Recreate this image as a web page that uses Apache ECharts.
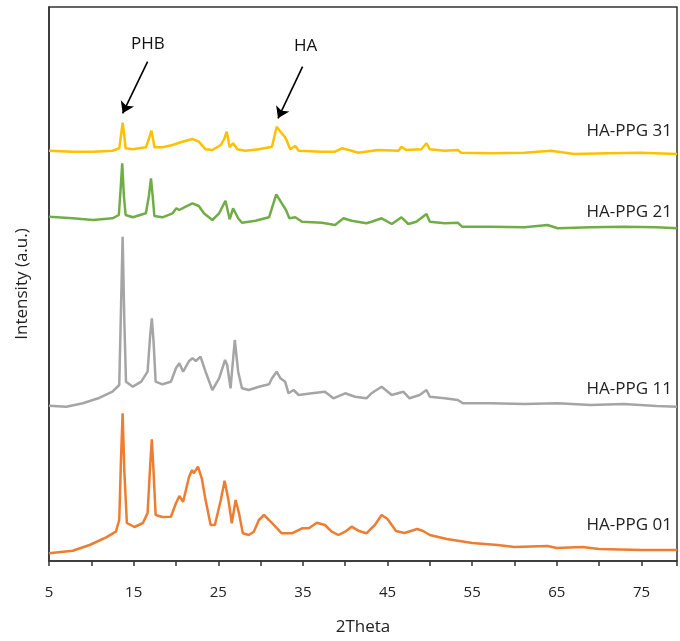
<!DOCTYPE html>
<html>
<head>
<meta charset="utf-8">
<script src="https://cdn.jsdelivr.net/npm/echarts@6/dist/echarts.min.js"></script>
<style>html,body{margin:0;padding:0;background:#fff;}#c{width:680px;height:641px;}</style>
</head>
<body>
<div id="c"></div>
<script>
// ---- data (2Theta, offset intensity in a.u.) ----
const x01 = [5, 7.8, 9.8, 11.75, 12.9, 13.3, 13.5, 13.7, 13.9, 14.2, 15.1, 16.1, 16.65, 16.95, 17.15, 17.35, 17.6, 18.4, 19.4, 20.0, 20.4, 20.85, 21.55, 21.9, 22.1, 22.6, 23.05, 23.5, 24.1, 24.6, 25.3, 25.75, 26.2, 26.6, 27.05, 27.45, 27.9, 28.6, 29.2, 29.8, 30.4, 31.0, 31.75, 32.5, 33.7, 34.9, 35.7, 36.65, 37.6, 38.4, 39.2, 40.0, 40.75, 41.55, 42.5, 43.5, 44.3, 45.0, 46.0, 47.0, 48.5, 49.2, 50, 52, 55, 58, 60, 63.9, 65, 68, 70, 75, 79.2];
const y01 = [7.7, 10.3, 16, 23.7, 29.3, 41, 100, 147.7, 90, 38, 34, 38, 48, 95, 121.7, 90, 46, 44, 44.3, 57.7, 65, 59.3, 84.3, 91, 87.7, 94.3, 82.7, 61, 36, 36, 61, 80.3, 61, 37.7, 61, 47.7, 27.7, 26, 29.3, 41, 46, 41, 34.3, 27.7, 27.7, 32.7, 32.7, 38.3, 36, 29.3, 26, 29.3, 34.3, 30.3, 27.7, 36, 46, 42, 30, 28, 32, 30, 26, 22, 18, 16, 14, 15, 13, 14, 12, 11, 11];

const x11 = [5, 7.05, 9.0, 11.0, 12.5, 13.3, 13.5, 13.7, 13.9, 14.1, 14.9, 15.9, 16.65, 16.95, 17.15, 17.35, 17.6, 18.4, 19.4, 20.0, 20.4, 20.85, 21.55, 21.95, 22.35, 22.9, 23.5, 24.3, 25.1, 25.8, 26.05, 26.45, 26.95, 27.35, 27.8, 28.6, 29.8, 31.0, 31.35, 31.9, 32.35, 32.9, 33.3, 33.9, 34.5, 36.05, 37.6, 38.6, 40.0, 41.15, 42.5, 43.1, 44.3, 45.5, 46.85, 47.6, 48.8, 49.6, 50.0, 51.75, 53.3, 53.9, 57.2, 61.2, 65.1, 69.0, 72.9, 76.8, 79.2];
const y11 = [155.3, 154.3, 157.7, 163.3, 169.3, 176, 250, 324.3, 240, 179.3, 174.3, 179.3, 189.3, 225, 242.7, 220, 179.3, 176.7, 179.3, 192.7, 197.7, 189.3, 200, 202.7, 200, 204.3, 189.3, 171, 182.7, 201, 196, 172.7, 221, 189.3, 172.7, 171, 174.3, 176.7, 182.7, 189.3, 182.7, 179.3, 167.7, 171, 166, 167.7, 169.3, 162.7, 167.7, 164.3, 162.7, 167.7, 174.3, 166, 169.3, 162.7, 166, 171, 164.3, 162.7, 161, 157.7, 157.7, 157, 157.7, 156, 157, 155, 154.3];

const x21 = [5, 7.8, 10.2, 12.5, 13.25, 13.45, 13.65, 13.85, 14.05, 14.9, 16.45, 16.8, 17.05, 17.25, 17.45, 18.4, 19.6, 20.05, 20.4, 21.15, 21.95, 22.7, 23.3, 24.3, 25.1, 25.85, 26.35, 26.75, 27.35, 27.8, 29.4, 31.0, 31.85, 32.45, 33.0, 33.4, 34.1, 34.9, 37.25, 38.8, 39.8, 40.75, 42.5, 43.1, 44.3, 45.5, 46.65, 47.45, 48.4, 49.6, 50.0, 51.75, 53.3, 53.8, 57.2, 61.2, 63.9, 65.1, 69.0, 72.9, 76.8, 79.2];
const y21 = [344.3, 342.7, 341, 342.7, 346, 370, 397.7, 365, 346, 343.7, 347.7, 365, 382.7, 365, 345, 343.7, 347.7, 352.7, 351, 354.3, 357.7, 355, 347.7, 341, 347.7, 360.3, 341.7, 352.7, 342.7, 338.3, 340.3, 343.7, 366.7, 358.3, 351, 342.7, 343.7, 339.3, 338.3, 336, 342.7, 340.3, 337.7, 339.3, 342.7, 337, 343.7, 337, 339.3, 347, 339.3, 337.7, 338.3, 334.3, 334.3, 333.7, 336, 332.7, 333.7, 334.3, 333.7, 332.7];

const x31 = [5, 7.8, 10.2, 12.5, 13.3, 13.5, 13.7, 13.9, 14.05, 14.9, 16.45, 16.8, 17.1, 17.3, 17.45, 18.4, 19.6, 20.75, 21.95, 22.7, 23.5, 24.3, 25.3, 25.7, 26.0, 26.35, 26.75, 27.25, 28.2, 29.8, 31.35, 31.9, 32.35, 32.85, 33.1, 33.5, 34.1, 34.5, 37.25, 38.8, 39.6, 40.75, 41.55, 43.9, 46.3, 46.65, 47.2, 49.0, 49.6, 50.0, 51.75, 53.3, 53.7, 57.2, 61.2, 64.3, 67.05, 71.0, 74.9, 79.2];
const y31 = [410.3, 409.3, 409.3, 410.3, 412.7, 425, 438.3, 425, 412.7, 411.7, 413.7, 422, 430.3, 422, 413.7, 413.7, 416, 419.3, 422, 419.3, 411.7, 411, 416, 422, 429.3, 413.7, 417.7, 411.7, 410.3, 411.7, 414.3, 434.3, 429.3, 424.3, 420.3, 411.7, 415, 410.3, 409.3, 409.3, 412.7, 410.3, 408.3, 411, 410.3, 414.3, 411, 411.7, 417.7, 411.7, 410.3, 411, 408.3, 407.7, 408.3, 410.3, 407, 407.7, 408.3, 407];

const seriesNames = ['HA-PPG 01', 'HA-PPG 11', 'HA-PPG 21', 'HA-PPG 31'];
const seriesColors = ['#ED7D31', '#A5A5A5', '#70AD47', '#FFC000'];
const xTickLabels = [5, 15, 25, 35, 45, 55, 65, 75];
const peakNotes = ['PHB', 'HA'];
// arrow ends in data units: [start, end]
const arrowPHB = [[16.65, 499.3], [13.7, 447.7]];
const arrowHA = [[34.96, 494.3], [32.06, 442.7]];

const zip = (xs, ys) => xs.map((v, i) => [v, ys[i]]);
const allX = [x01, x11, x21, x31];
const allY = [y01, y11, y21, y31];

const chart = echarts.init(document.getElementById('c'), null, {renderer: 'canvas'});
const FONT = '"Open Sans", "DejaVu Sans", sans-serif';

const series = seriesNames.map((n, i) => ({
  name: n,
  type: 'line',
  data: zip(allX[i], allY[i]),
  showSymbol: false,
  symbol: 'none',
  lineStyle: {color: seriesColors[i], width: 2.5},
  itemStyle: {color: seriesColors[i]},
  z: 2 + i,
  silent: true
}));

series[3].markLine = {
  silent: true,
  symbol: ['none', 'arrow'],
  symbolSize: 11,
  label: {show: false},
  lineStyle: {color: '#000', width: 1.6, type: 'solid'},
  data: [
    [{coord: arrowPHB[0]}, {coord: arrowPHB[1]}],
    [{coord: arrowHA[0]}, {coord: arrowHA[1]}]
  ]
};

const labelY = [527, 391, 214, 133];
const graphics = seriesNames.map((n, i) => ({
  type: 'text',
  right: 8,
  top: labelY[i] - 10,
  style: {text: n, font: '17px ' + FONT, fill: '#222'}
}));
graphics.push({type: 'text', left: 131, top: 36, style: {text: peakNotes[0], font: '17px ' + FONT, fill: '#111'}});
graphics.push({type: 'text', left: 294, top: 38, style: {text: peakNotes[1], font: '17px ' + FONT, fill: '#111'}});

chart.setOption({
  animation: false,
  backgroundColor: '#fff',
  grid: {left: 49, right: 0, top: 7, bottom: 80, show: true, borderColor: '#333', borderWidth: 1.5, backgroundColor: 'transparent'},
  xAxis: {
    type: 'value', min: 5, max: 79.2, interval: 5,
    name: '2Theta', nameLocation: 'middle', nameGap: 58,
    nameTextStyle: {fontFamily: FONT, fontSize: 17, color: '#222'},
    axisLine: {show: true, lineStyle: {color: '#333', width: 1.5}},
    axisTick: {show: true, length: 5, lineStyle: {color: '#333', width: 1.5}},
    axisLabel: {
      margin: 24, fontFamily: FONT, fontSize: 15, color: '#222',
      formatter: v => (xTickLabels.indexOf(Math.round(v * 100) / 100) >= 0 ? String(v) : '')
    },
    splitLine: {show: false}
  },
  yAxis: {
    type: 'value', min: 0, max: 554,
    name: 'Intensity (a.u.)', nameLocation: 'middle', nameGap: 18,
    nameTextStyle: {fontFamily: FONT, fontSize: 17, color: '#222'},
    axisLine: {show: true, lineStyle: {color: '#333', width: 1.5}},
    axisTick: {show: false},
    axisLabel: {show: false},
    splitLine: {show: false}
  },
  series: series,
  graphic: graphics
});
</script>
</body>
</html>
